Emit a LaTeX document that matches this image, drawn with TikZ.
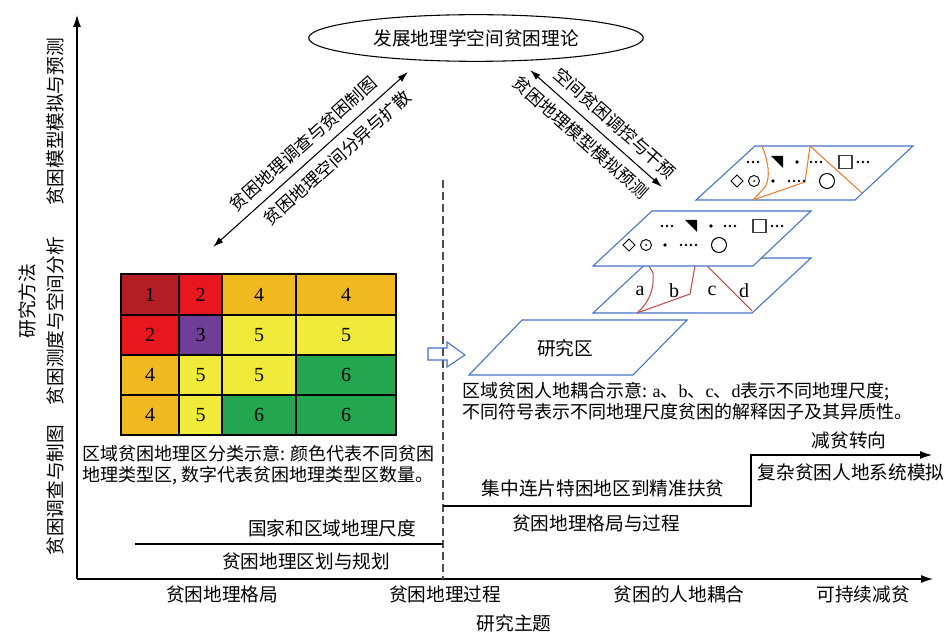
\documentclass[tikz,border=0pt]{standalone}
\usepackage{fontspec}
\setmainfont{Liberation Serif}
\newfontfamily\cjk{Noto Sans CJK SC}
\usetikzlibrary{arrows.meta,shapes.geometric,positioning}
\definecolor{platec}{RGB}{68,114,196}
\definecolor{scalec}{RGB}{192,80,77}
\definecolor{factc}{RGB}{237,125,49}
\definecolor{zdred}{RGB}{178,30,36}
\definecolor{zred}{RGB}{232,23,30}
\definecolor{zorange}{RGB}{241,185,32}
\definecolor{zpurple}{RGB}{111,63,152}
\definecolor{zyellow}{RGB}{240,235,58}
\definecolor{zgreen}{RGB}{36,166,80}
\tikzset{
  lbl/.style={font=\cjk\fontsize{14}{17}\selectfont},
  captxt/.style={font=\cjk\fontsize{13.5}{16}\selectfont},
  arrtxt/.style={font=\cjk\fontsize{13}{15}\selectfont,inner sep=1pt},
  axisarr/.style={-{Latex[length=9pt,width=6pt]},line width=0.8pt},
  dblarr/.style={{Latex[length=8pt,width=5pt]}-{Latex[length=8pt,width=5pt]},line width=0.8pt},
  plate/.style={draw=platec,line width=0.8pt,fill=white},
  symA/.pic={
    \foreach \d in {-5,0,5} \fill (\d,0) circle (1.3);
    \fill (18,-6) -- (30,-6) -- (30,6) -- cycle;
    \fill (44,0) circle (1.9);
    \foreach \d in {58,63,68} \fill (\d,0) circle (1.3);
    \draw[line width=0.9pt,black!75] (86,-6.5) rectangle (99,6.5);
    \foreach \d in {105,110,115} \fill (\d,0) circle (1.3);
  },
  symB/.pic={
    \draw[line width=0.7pt] (-6,0) -- (0,-6) -- (6,0) -- (0,6) -- cycle;
    \draw[line width=0.7pt] (17,0) circle (5.5);
    \fill (17,0) circle (1);
    \fill (36,0) circle (1.9);
    \foreach \d in {52,57,62,67} \fill (\d,0) circle (1.4);
    \draw[line width=0.8pt] (90,0) circle (7.5);
  }
}
\begin{document}
\begin{tikzpicture}[x=0.75pt,y=-0.75pt]
  \useasboundingbox (0,0) rectangle (950,638);
  % axes
  \coordinate (O) at (77,579);
  \coordinate (ytop) at (77,15);
  \coordinate (xend) at (933,579);
  \draw[axisarr] (O) -- (ytop);
  \draw[axisarr] (O) -- (xend);
  \node[lbl,rotate=90] (ymain) at (27,301) {研究方法};
  \node[lbl,rotate=90] (ym3) at (55,122) {贫困模型模拟与预测};
  \node[lbl,rotate=90] (ym2) at (55,321) {贫困测度与空间分析};
  \node[lbl,rotate=90] (ym1) at (55,490) {贫困调查与制图};
  \node[lbl] (xt1) at (222,594) {贫困地理格局};
  \node[lbl] (xt2) at (445,594) {贫困地理过程};
  \node[lbl] (xt3) at (679,594) {贫困的人地耦合};
  \node[lbl] (xt4) at (863,594) {可持续减贫};
  \node[lbl] (xmain) at (514,623) {研究主题};
  % dashed divider
  \coordinate (dtop) at (443,180);
  \coordinate (dbot) at (443,579);
  \draw[black!70,line width=2pt,dash pattern=on 6pt off 3pt] (dtop) -- (dbot);
  % theory
  \node[ellipse,draw,line width=0.8pt,minimum width=251pt,minimum height=35pt,lbl] (theory) at (476,38) {发展地理学空间贫困理论};
  \coordinate (la1) at (213,247);
  \coordinate (la2) at (408,72);
  \draw[dblarr] (la1) -- node[arrtxt,sloped,above=5pt,pos=.52] {贫困地理调查与贫困制图}
    node[arrtxt,sloped,below=5pt,pos=.58] {贫困地理空间分异与扩散} (la2);
  \coordinate (ra1) at (530,70);
  \coordinate (ra2) at (662,187);
  \draw[dblarr] (ra1) -- node[arrtxt,sloped,above=5pt,pos=.56] {空间贫困调控与干预}
    node[arrtxt,sloped,below=5pt,pos=.47] {贫困地理模型模拟预测} (ra2);
  % zoning grid
  \foreach \xa/\xb/\ya/\yb/\c/\n in {
    121/179/274/315/zdred/1, 179/222/274/315/zred/2, 222/296/274/315/zorange/4, 296/396/274/315/zorange/4,
    121/179/315/355/zred/2, 179/222/315/355/zpurple/3, 222/296/315/355/zyellow/5, 296/396/315/355/zyellow/5,
    121/179/355/395/zorange/4, 179/222/355/395/zyellow/5, 222/296/355/395/zyellow/5, 296/396/355/395/zgreen/6,
    121/179/395/435/zorange/4, 179/222/395/435/zyellow/5, 222/296/395/435/zgreen/6, 296/396/395/435/zgreen/6}
  {
    \draw[fill=\c,line width=1.1pt] (\xa,\ya) rectangle (\xb,\yb);
    \node[font=\fontsize{15}{17}\selectfont] at ({(\xa+\xb)/2},{(\ya+\yb)/2}) {\n};
  }
  \node[captxt,align=left,anchor=north west,inner sep=0pt] (gridcap) at (82,445)
    {区域贫困地理区分类示意: 颜色代表不同贫困\\地理类型区, 数字代表贫困地理类型区数量。};
  % hollow arrow
  \draw[platec,line width=0.8pt] (428,348) -- (447,348) -- (447,342) -- (465,355)
    -- (447,367) -- (447,360) -- (428,360) -- cycle;
  % plates
  \draw[plate] (469,375) -- (633,375) -- (687,320) -- (522,320) -- cycle;
  \node[lbl] (area) at (565,348) {研究区};
  \draw[plate] (593,313) -- (752,313) -- (811,258) -- (652,258) -- cycle;
  \draw[scalec,line width=0.8pt] (637,313) .. controls (652,300) and (654,285) .. (653,273) -- (649,266);
  \draw[scalec,line width=0.8pt] (637,313) -- (690,294) -- (695,266);
  \draw[scalec,line width=0.8pt] (707,266) -- (752,311);
  \node[font=\fontsize{15}{17}\selectfont] at (640,291) {a};
  \node[font=\fontsize{15}{17}\selectfont] at (674,291) {b};
  \node[font=\fontsize{15}{17}\selectfont] at (712,291) {c};
  \node[font=\fontsize{15}{17}\selectfont] at (744,291) {d};
  \draw[plate] (593,266) -- (753,266) -- (811,211) -- (652,211) -- cycle;
  \pic at (667,226) {symA};
  \pic at (629,245) {symB};
  \draw[plate] (696,200) -- (855,200) -- (913,146) -- (755,146) -- cycle;
  \draw[factc,line width=0.8pt] (762,146) .. controls (768,160) and (771,178) .. (765,187) -- (753,200);
  \draw[factc,line width=0.8pt] (753,200) -- (805,182) -- (810,146) -- (862,193);
  \pic at (753,162) {symA};
  \pic at (737,181) {symB};
  \node[captxt,align=left,anchor=north west,inner sep=0pt] (platecap) at (462,382)
    {区域贫困人地耦合示意: {\rmfamily a}、{\rmfamily b}、{\rmfamily c}、{\rmfamily d}表示不同地理尺度;\\不同符号表示不同地理尺度贫困的解释因子及其异质性。};
  % scale and process lines
  \coordinate (s1) at (135,544);
  \coordinate (s2) at (443,544);
  \draw[line width=0.8pt] (s1) -- (s2);
  \node[lbl] (scaleup) at (332,528) {国家和区域地理尺度};
  \node[lbl] (scaledn) at (306,561) {贫困地理区划与规划};
  \coordinate (p1) at (443,506);
  \coordinate (p2) at (751,506);
  \coordinate (p3) at (751,455);
  \coordinate (p4) at (932,455);
  \draw[axisarr] (p1) -- (p2) -- (p3) -- (p4);
  \node[lbl] (focus) at (603,488) {集中连片特困地区到精准扶贫};
  \node[lbl] (pattern) at (596,523) {贫困地理格局与过程};
  \node[lbl] (turn) at (849,440) {减贫转向};
  \node[lbl] (complex) at (851,472) {复杂贫困人地系统模拟};
\end{tikzpicture}
\end{document}
